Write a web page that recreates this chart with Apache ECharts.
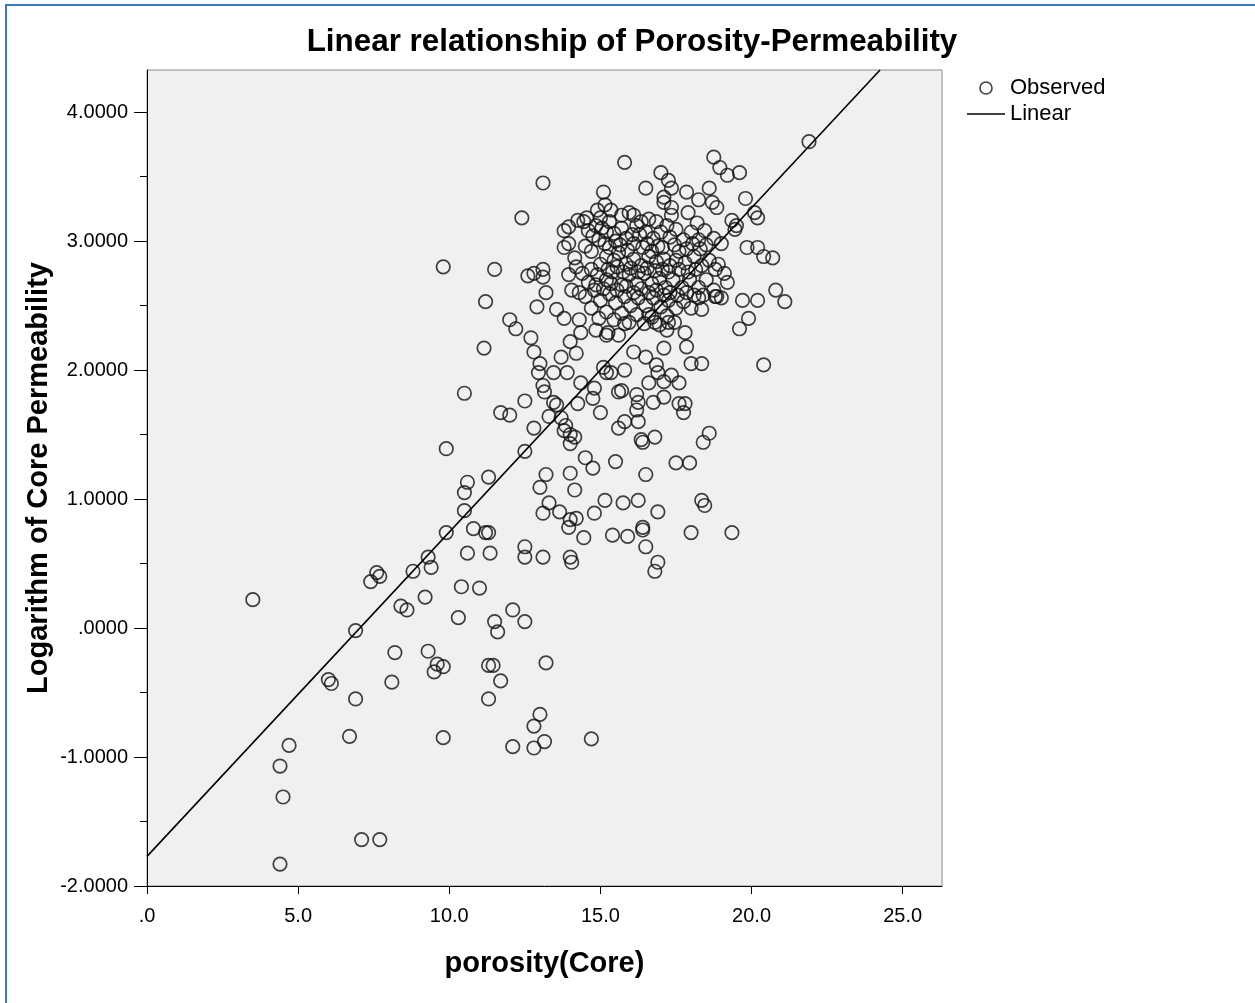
<!DOCTYPE html>
<html><head><meta charset="utf-8">
<script src="https://cdn.jsdelivr.net/npm/echarts@6.0.0/dist/echarts.min.js"></script>
<style>html,body{margin:0;padding:0;background:#fff}#chart{width:1255px;height:1003px}</style>
</head><body><div id="chart"></div>
<script>
const titleText = 'Linear relationship of Porosity-Permeability';
const xAxisTitle = 'porosity(Core)';
const yAxisTitle = 'Logarithm of Core Permeability';
const xTicks = [0, 5, 10, 15, 20, 25];
const yTicks = [-2, -1, 0, 1, 2, 3, 4];
const yMinorTicks = [-1.5, -0.5, 0.5, 1.5, 2.5, 3.5];
const legendNames = ['Observed', 'Linear'];

// observed points: [porosity, log permeability]
const observed = [
[3.5,0.22],[4.4,-1.07],[4.5,-1.31],[4.7,-0.91],[4.4,-1.83],
[6.0,-0.40],[6.1,-0.43],[7.1,-1.64],[7.7,-1.64],[6.9,-0.02],[6.9,-0.55],[6.7,-0.84],
[7.4,0.36],[7.6,0.43],[7.7,0.40],[8.2,-0.19],[8.1,-0.42],[8.4,0.17],[8.6,0.14],[8.8,0.44],
[9.2,0.24],[9.3,0.55],[9.4,0.47],[9.3,-0.18],[9.6,-0.28],[9.8,-0.30],[9.5,-0.34],[9.8,-0.85],
[9.9,0.74],[10.5,0.91],[10.8,0.77],[10.6,0.58],[10.4,0.32],[11.0,0.31],[10.3,0.08],
[11.2,0.74],[11.3,0.74],[11.35,0.58],[11.3,-0.29],[11.45,-0.29],[11.3,-0.55],
[10.5,1.05],[10.6,1.13],[11.3,1.17],[9.9,1.39],[10.5,1.82],[9.8,2.80],[11.5,2.78],[11.2,2.53],[11.15,2.17],
[12.1,0.14],[12.5,0.05],[11.5,0.05],[11.6,-0.03],[11.7,-0.41],[13.2,-0.27],
[13.0,-0.67],[12.8,-0.76],[13.15,-0.88],[12.8,-0.93],[12.1,-0.92],[14.7,-0.86],
[12.9,2.49],[13.55,2.47],[13.8,2.40],[14.3,2.39],[14.35,2.29],[12.0,2.39],[12.2,2.32],[12.7,2.25],[12.8,2.14],
[14.0,2.22],[14.2,2.13],[13.7,2.10],[13.0,2.05],[12.95,1.98],[13.45,1.98],[13.9,1.98],
[15.25,2.29],[15.2,2.27],[15.6,2.27],[15.1,2.02],[15.2,1.98],[15.35,1.98],[15.8,2.0],
[14.35,1.90],[13.1,1.88],[13.15,1.83],[14.8,1.86],[14.75,1.78],[15.6,1.83],[15.7,1.84],
[13.45,1.75],[13.55,1.73],[12.5,1.76],[14.25,1.74],[11.7,1.67],[12.0,1.65],[15.0,1.67],
[13.3,1.64],[13.7,1.63],[13.85,1.57],[13.8,1.53],[12.8,1.55],[14.0,1.50],[14.15,1.48],[14.0,1.43],
[15.6,1.55],[15.8,1.60],[12.5,1.37],
[13.2,1.19],[13.0,1.09],[14.0,1.20],[14.15,1.07],[14.5,1.32],[14.75,1.24],[15.5,1.29],
[13.3,0.97],[13.1,0.89],[13.65,0.90],[14.0,0.84],[14.2,0.85],[13.95,0.78],[15.15,0.99],[14.8,0.89],[15.75,0.97],
[14.45,0.70],[15.4,0.72],[15.9,0.71],[12.5,0.63],[12.5,0.55],[13.1,0.55],[14.0,0.55],[14.05,0.51],
[17.5,1.28],[17.95,1.28],[16.5,1.19],[16.25,0.99],[16.9,0.90],[18.35,0.99],[18.45,0.95],[16.4,0.78],[16.4,0.76],
[16.5,0.63],[18.0,0.74],[19.35,0.74],[16.9,0.51],[16.8,0.44],
[19.7,2.54],[20.2,2.54],[21.1,2.53],[19.9,2.40],[19.6,2.32],[20.4,2.04],
[17.8,2.29],[17.85,2.18],[17.1,2.17],[16.1,2.14],[16.5,2.10],[18.0,2.05],[18.35,2.05],[16.85,2.04],[16.9,1.98],
[17.35,1.96],[17.6,1.90],[16.6,1.90],[17.1,1.91],
[16.2,1.81],[16.25,1.75],[16.2,1.69],[16.75,1.75],[17.1,1.79],[17.6,1.74],[17.8,1.74],[17.75,1.67],
[16.25,1.60],[16.35,1.46],[16.4,1.44],[16.8,1.48],[18.4,1.44],[18.6,1.51],
[17.75,2.53],[18.25,2.56],[18.35,2.47],[18.0,2.48],[18.8,2.57],[19.0,2.56],[17.25,2.37],[17.2,2.31],[16.6,2.43],[16.8,2.37],[15.8,2.36],
[13.1,3.45],[12.4,3.18],[15.8,3.61],[15.1,3.38],[12.6,2.73],[12.8,2.75],[13.1,2.78],[13.1,2.72],[13.2,2.60],
[21.9,3.77],[18.75,3.65],[18.95,3.57],[19.2,3.51],[19.6,3.53],[19.8,3.33],[20.1,3.22],[20.2,3.18],
[17.0,3.53],[16.5,3.41],[17.25,3.47],[17.35,3.41],[17.1,3.34],[17.1,3.30],[17.85,3.38],[18.6,3.41],[18.25,3.32],
[18.7,3.30],[18.85,3.26],[17.9,3.22],[18.2,3.14],[17.35,3.26],[17.35,3.20],[19.35,3.16],[19.5,3.12],[19.45,3.09],
[19.85,2.95],[20.2,2.95],[20.4,2.88],[20.7,2.87],[20.8,2.62],
[13.8,3.08],[13.95,3.11],[14.25,3.16],[14.45,3.15],[14.55,3.18],[13.95,2.98],[13.8,2.95],[14.15,2.87],[14.2,2.80],[13.95,2.74],[14.05,2.62],
[14.9,3.24],[15.15,3.28],[15.35,3.24],[15.0,3.18],[15.3,3.15],[15.7,3.20],[15.95,3.22],[16.1,3.20],[16.35,3.15],[16.6,3.17],[16.85,3.15],
[15.2,3.07],[15.45,3.06],[15.7,3.10],[14.75,3.04],[14.95,3.01],[15.15,2.98],[14.5,2.96],[14.7,2.92],
[15.85,3.02],[16.1,2.98],[16.3,3.05],[16.5,3.07],[16.75,3.02],[17.0,3.07],[17.3,3.03],[17.5,3.09],[17.75,3.01],
[18.0,3.07],[18.25,3.01],[18.5,2.97],[18.75,3.02],[19.0,2.98],
[15.2,2.88],[15.45,2.85],[15.6,2.91],[15.85,2.82],[16.1,2.86],[16.35,2.81],[16.6,2.88],[16.85,2.84],[17.1,2.86],
[17.3,2.81],[17.5,2.85],[17.8,2.83],[18.1,2.88],[18.35,2.81],[18.6,2.85],[18.8,2.78],[18.9,2.82],
[14.4,2.75],[14.7,2.78],[14.9,2.74],[15.2,2.70],[15.4,2.76],[15.7,2.66],[15.95,2.74],[16.2,2.67],[16.45,2.75],
[16.7,2.67],[16.95,2.71],[17.15,2.64],[17.4,2.70],[17.7,2.64],[17.95,2.70],[18.25,2.64],[18.5,2.70],[18.75,2.62],[18.85,2.57],
[14.3,2.60],[14.5,2.57],[14.8,2.62],[15.0,2.54],[15.3,2.59],[15.5,2.52],[15.8,2.57],[16.0,2.50],[16.25,2.56],
[16.5,2.50],[16.75,2.56],[17.0,2.49],[17.25,2.54],[17.5,2.48],
[14.7,2.48],[14.95,2.40],[15.2,2.45],[15.45,2.39],[15.7,2.44],[15.95,2.37],[16.2,2.43],[16.45,2.36],[16.7,2.41],
[16.95,2.35],[17.2,2.42],[17.45,2.37],[14.85,2.31],[19.1,2.75],[19.2,2.68],
[14.6,3.08],[14.85,3.12],[15.05,3.10],[15.3,2.95],[15.5,3.00],[15.65,2.97],[15.9,2.93],[16.05,3.05],[16.2,3.12],
[16.4,2.95],[16.55,2.98],[16.7,2.92],[16.9,2.96],[17.05,2.95],[17.2,3.12],[17.45,2.97],[17.6,2.92],[17.85,2.94],
[18.05,2.98],[18.3,2.94],[18.45,3.08],[15.0,2.82],[15.25,2.78],[15.55,2.80],[15.75,2.76],[16.0,2.79],[16.25,2.76],
[16.55,2.79],[16.8,2.77],[17.05,2.78],[17.25,2.76],[17.6,2.78],[17.9,2.76],[18.15,2.78],[14.6,2.68],[14.85,2.66],
[15.1,2.63],[15.35,2.67],[15.55,2.62],[15.85,2.65],[16.1,2.60],[16.35,2.63],[16.6,2.60],[16.85,2.62],[17.1,2.58],
[17.3,2.60],[17.55,2.58],[17.85,2.60],[18.1,2.58],[18.4,2.58]
];

// fitted line endpoints: [porosity, log permeability]
const linearFit = [[0, -1.77], [24.25, 4.326]];

const FONT = '"Liberation Sans", Arial, Helvetica, sans-serif';
const chart = echarts.init(document.getElementById('chart'), null, {renderer: 'canvas'});
chart.setOption({
  animation: false,
  backgroundColor: '#ffffff',
  textStyle: {fontFamily: FONT},
  title: {
    text: titleText, left: 632, top: 27, textAlign: 'center', padding: 0,
    textStyle: {fontFamily: FONT, fontSize: 31.4, fontWeight: 'bold', color: '#000'}
  },
  graphic: [{
    type: 'rect', silent: true, z: -10,
    shape: {x: 6, y: 5, width: 1300, height: 1100},
    style: {fill: 'none', stroke: '#3a78c0', lineWidth: 2}
  }],
  grid: {left: 147, top: 70, right: 313, bottom: 117, show: true,
    backgroundColor: '#f0f0f0', borderColor: '#8c8c8c', borderWidth: 1},
  legend: {
    orient: 'vertical', left: 962, top: 72, itemWidth: 38, itemHeight: 12, itemGap: 4,
    selectedMode: false, symbolKeepAspect: true,
    textStyle: {fontFamily: FONT, fontSize: 22, color: '#000', lineHeight: 20},
    data: [
      {name: legendNames[0], icon: 'circle',
       itemStyle: {color: 'rgba(0,0,0,0)', borderColor: '#111', borderWidth: 1.6}},
      {name: legendNames[1], icon: 'path://M0,0L38,0L38,1.6L0,1.6Z',
       itemStyle: {color: '#000', borderWidth: 0}}
    ]
  },
  xAxis: {
    type: 'value', min: 0, max: 26.3, interval: 5,
    axisLine: {show: true, onZero: false, lineStyle: {color: '#000', width: 1}},
    axisTick: {show: true, length: 8, customValues: xTicks, lineStyle: {color: '#000'}},
    axisLabel: {customValues: xTicks, formatter: v => v === 0 ? '.0' : v.toFixed(1),
      fontFamily: FONT, fontSize: 20, color: '#000', margin: 20},
    splitLine: {show: false},
    name: xAxisTitle, nameLocation: 'middle', nameGap: 63, nameMoveOverlap: false,
    nameTextStyle: {fontFamily: FONT, fontSize: 29, fontWeight: 'bold', color: '#000'}
  },
  yAxis: [{
    type: 'value', min: -2, max: 4.326, interval: 1, position: 'left',
    axisLine: {show: true, onZero: false, lineStyle: {color: '#000', width: 1}},
    axisTick: {show: true, length: 13, customValues: yTicks, lineStyle: {color: '#000'}},
    axisLabel: {customValues: yTicks, formatter: v => v === 0 ? '.0000' : v.toFixed(4),
      fontFamily: FONT, fontSize: 20, color: '#000', margin: 19},
    splitLine: {show: false},
    name: yAxisTitle, nameLocation: 'middle', nameGap: 94, nameMoveOverlap: false,
    nameTextStyle: {fontFamily: FONT, fontSize: 29, fontWeight: 'bold', color: '#000'}
  }, {
    type: 'value', min: -2, max: 4.326, position: 'left', offset: 0,
    axisLine: {show: false},
    axisTick: {show: true, length: 7, customValues: yMinorTicks, lineStyle: {color: '#000'}},
    axisLabel: {show: false}, splitLine: {show: false}
  }],
  series: [{
    name: legendNames[0], type: 'scatter', data: observed, silent: true, z: 2,
    symbol: 'circle', symbolSize: 13.5,
    itemStyle: {color: 'rgba(0,0,0,0)', borderColor: '#111', borderWidth: 1.7}
  }, {
    name: legendNames[1], type: 'line', data: linearFit, silent: true, z: 3,
    symbol: 'none', showSymbol: false,
    lineStyle: {color: '#000', width: 1.6}
  }]
});
</script>
</body></html>
